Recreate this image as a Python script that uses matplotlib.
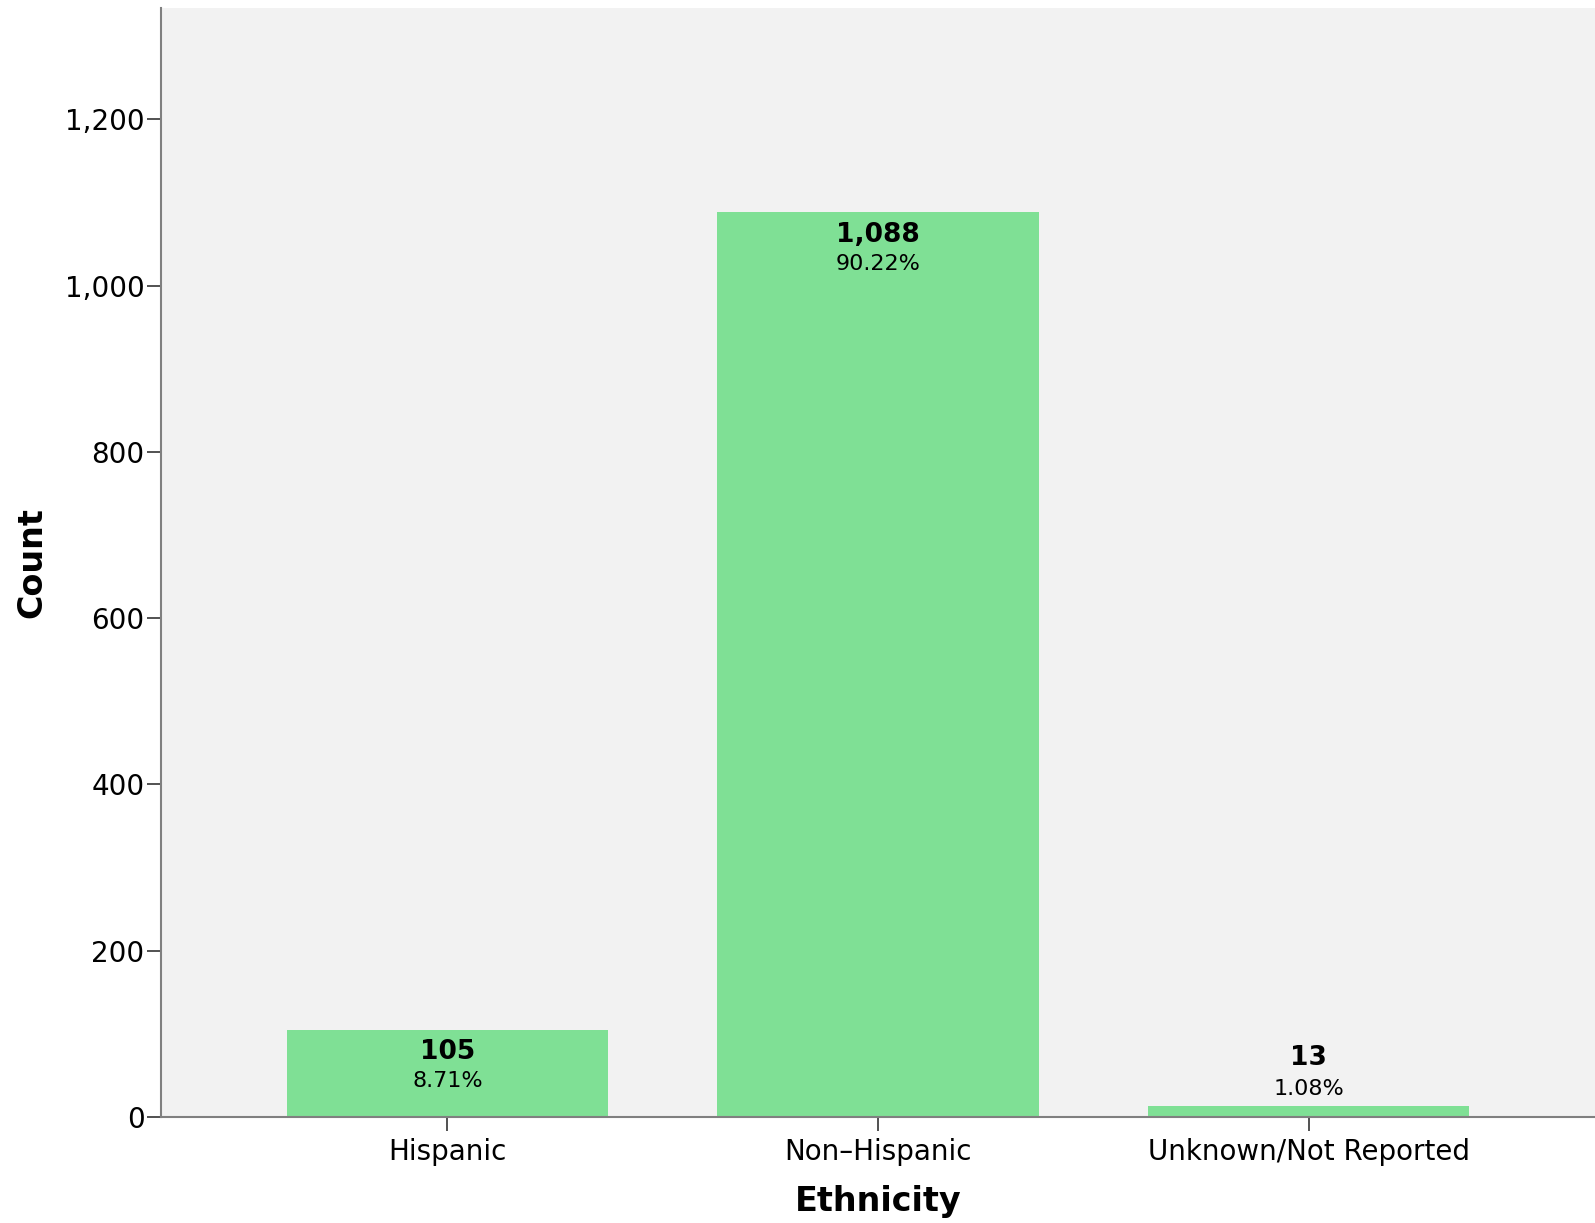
import matplotlib
matplotlib.use("Agg")
import matplotlib.pyplot as plt
from matplotlib.ticker import FuncFormatter

categories = ["Hispanic", "Non-Hispanic", "Unknown/Not Reported"]
counts = [105, 1088, 13]
yticks = [0, 200, 400, 600, 800, 1000, 1200]

total = sum(counts)
fig = plt.figure(figsize=(15.95, 12.23), dpi=100)
ax = fig.add_axes([0.101, 0.0867, 0.899, 0.9068])
ax.set_facecolor("#F2F2F2")
x = list(range(len(categories)))
ax.bar(x, counts, width=0.747, color="#7FE095", edgecolor="none", zorder=2)
ax.set_xlim(-0.665, 2.665)
ax.set_ylim(0, 1334)
ax.set_yticks(yticks)
ax.yaxis.set_major_formatter(FuncFormatter(lambda v, p: f"{int(v):,}"))
ax.set_xticks(x)
ax.set_xticklabels([c.replace("-", "\u2013") for c in categories])
for s in ["top", "right"]:
    ax.spines[s].set_visible(False)
for s in ["left", "bottom"]:
    ax.spines[s].set_color("#808080")
    ax.spines[s].set_linewidth(1.5)
ax.tick_params(axis="both", labelsize=20, length=10, width=1.2, color="#333333", pad=2)
ax.tick_params(axis="x", pad=5)
ax.set_ylabel("Count", fontsize=24, fontweight="bold", labelpad=12)
ax.set_xlabel("Ethnicity", fontsize=24, fontweight="bold", labelpad=14)

for xi, c in zip(x, counts):
    pct = f"{c / total * 100:.2f}%"
    if c > 60:
        ax.annotate(f"{c:,}", (xi, c), xytext=(0, -16), textcoords="offset points",
                    ha="center", va="center", fontsize=19, fontweight="bold", zorder=3)
        ax.annotate(pct, (xi, c), xytext=(0, -37), textcoords="offset points",
                    ha="center", va="center", fontsize=16, zorder=3)
    else:
        ax.annotate(f"{c:,}", (xi, c), xytext=(0, 35), textcoords="offset points",
                    ha="center", va="center", fontsize=19, fontweight="bold", zorder=3)
        ax.annotate(pct, (xi, c), xytext=(0, 12), textcoords="offset points",
                    ha="center", va="center", fontsize=16, zorder=3)

fig.savefig("out.png", dpi=100)
